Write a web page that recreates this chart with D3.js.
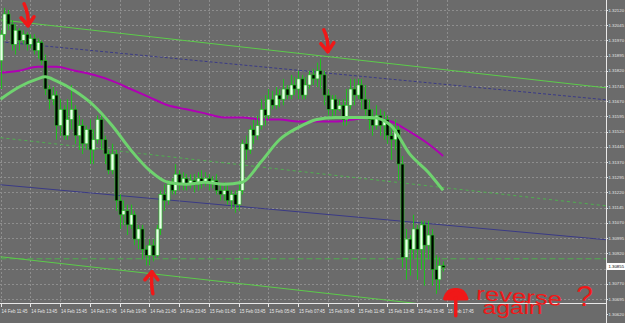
<!DOCTYPE html>
<html>
<head>
<meta charset="utf-8">
<script src="https://cdn.jsdelivr.net/npm/d3@7"></script>
<style>
  body { margin: 0; background: #6b6b6b; }
  svg text { font-family: "Liberation Sans", Arial, sans-serif; }
</style>
</head>
<body>
<div id="chart"></div>
<script>
// price scale labels (right side)
const priceTicks = [1.32120, 1.32045, 1.31970, 1.31895, 1.31820, 1.31745, 1.31670, 1.31595,
  1.31520, 1.31445, 1.31370, 1.31295, 1.31220, 1.31145, 1.31070, 1.30995, 1.30920,
  1.30845, 1.30770, 1.30695, 1.30620];
const lastPrice = 1.30855;

// time labels, one every 8 bars (M15)
const timeTicks = ["14 Feb 11:45", "14 Feb 13:45", "14 Feb 15:45", "14 Feb 17:45",
  "14 Feb 19:45", "14 Feb 21:45", "14 Feb 23:45", "15 Feb 01:45", "15 Feb 03:45",
  "15 Feb 05:45", "15 Feb 07:45", "15 Feb 09:45", "15 Feb 11:45", "15 Feb 13:45",
  "15 Feb 15:45", "15 Feb 17:45"];

// candles: [open, high, low, close]
const ohlc = [
  [1.3187,1.3202,1.3173,1.3200],[1.3200,1.3213,1.3197,1.3210],[1.3210,1.3212,1.3202,1.3205],
  [1.3205,1.3207,1.3192,1.3195],[1.3195,1.3205,1.3190,1.3202],[1.3202,1.3203,1.3192,1.3197],
  [1.3197,1.3202,1.3195,1.3200],[1.3200,1.3201,1.3192,1.3195],[1.3195,1.3200,1.3193,1.3198],
  [1.3198,1.3200,1.3190,1.3192],[1.3192,1.3198,1.3188,1.3196],[1.3196,1.3197,1.3185,1.3187],
  [1.3187,1.3190,1.3170,1.3173],[1.3173,1.3175,1.3163,1.3168],[1.3168,1.3174,1.3165,1.3170],
  [1.3170,1.3172,1.3148,1.3155],[1.3155,1.3168,1.3150,1.3163],[1.3163,1.3165,1.3148,1.3150],
  [1.3150,1.3168,1.3148,1.3158],[1.3158,1.3175,1.3153,1.3163],[1.3163,1.3165,1.3146,1.3150],
  [1.3150,1.3160,1.3143,1.3155],[1.3155,1.3158,1.3141,1.3146],[1.3146,1.3155,1.3143,1.3153],
  [1.3153,1.3158,1.3136,1.3143],[1.3143,1.3153,1.3136,1.3148],[1.3148,1.3160,1.3146,1.3158],
  [1.3158,1.3160,1.3143,1.3148],[1.3148,1.3150,1.3136,1.3141],[1.3141,1.3143,1.3131,1.3133],
  [1.3133,1.3146,1.3131,1.3141],[1.3141,1.3143,1.3113,1.3118],[1.3118,1.3121,1.3104,1.3111],
  [1.3111,1.3118,1.3106,1.3113],[1.3113,1.3116,1.3101,1.3106],[1.3106,1.3116,1.3104,1.3111],
  [1.3111,1.3113,1.3096,1.3099],[1.3099,1.3106,1.3094,1.3104],[1.3104,1.3106,1.3089,1.3094],
  [1.3094,1.3096,1.3086,1.3091],[1.3091,1.3099,1.3086,1.3096],[1.3096,1.3099,1.3088,1.3091],
  [1.3091,1.3106,1.3090,1.3104],[1.3104,1.3123,1.3101,1.3121],[1.3121,1.3126,1.3113,1.3118],
  [1.3118,1.3128,1.3116,1.3126],[1.3126,1.3129,1.3121,1.3123],[1.3123,1.3136,1.3121,1.3131],
  [1.3131,1.3133,1.3123,1.3126],[1.3126,1.3132,1.3123,1.3129],[1.3129,1.3131,1.3123,1.3126],
  [1.3126,1.3131,1.3124,1.3128],[1.3128,1.3131,1.3122,1.3126],[1.3126,1.3132,1.3123,1.3129],
  [1.3129,1.3133,1.3124,1.3127],[1.3127,1.3132,1.3125,1.3129],[1.3129,1.3131,1.3123,1.3127],
  [1.3127,1.3130,1.3124,1.3128],[1.3128,1.3131,1.3121,1.3123],[1.3123,1.3126,1.3118,1.3121],
  [1.3121,1.3127,1.3118,1.3123],[1.3123,1.3126,1.3116,1.3118],[1.3118,1.3123,1.3114,1.3121],
  [1.3121,1.3123,1.3112,1.3116],[1.3116,1.3126,1.3113,1.3123],[1.3123,1.3148,1.3121,1.3146],
  [1.3146,1.3150,1.3138,1.3143],[1.3143,1.3155,1.3141,1.3153],[1.3153,1.3158,1.3146,1.3150],
  [1.3150,1.3160,1.3148,1.3155],[1.3155,1.3168,1.3153,1.3163],[1.3163,1.3170,1.3155,1.3160],
  [1.3160,1.3173,1.3158,1.3168],[1.3168,1.3172,1.3163,1.3165],[1.3165,1.3174,1.3163,1.3170],
  [1.3170,1.3173,1.3164,1.3168],[1.3168,1.3178,1.3165,1.3173],[1.3173,1.3175,1.3168,1.3170],
  [1.3170,1.3180,1.3168,1.3175],[1.3175,1.3179,1.3170,1.3173],[1.3173,1.3182,1.3168,1.3178],
  [1.3178,1.3180,1.3168,1.3170],[1.3170,1.3179,1.3168,1.3175],[1.3175,1.3182,1.3173,1.3180],
  [1.3180,1.3183,1.3175,1.3178],[1.3178,1.3186,1.3174,1.3182],[1.3182,1.3188,1.3173,1.3180],
  [1.3180,1.3182,1.3165,1.3170],[1.3170,1.3173,1.3160,1.3163],[1.3163,1.3170,1.3158,1.3168],
  [1.3168,1.3170,1.3160,1.3163],[1.3163,1.3168,1.3162,1.3165],[1.3165,1.3168,1.3155,1.3158],
  [1.3158,1.3173,1.3155,1.3165],[1.3165,1.3178,1.3163,1.3173],[1.3173,1.3178,1.3165,1.3170],
  [1.3170,1.3178,1.3168,1.3175],[1.3175,1.3178,1.3163,1.3168],[1.3168,1.3175,1.3160,1.3163],
  [1.3163,1.3168,1.3153,1.3158],[1.3158,1.3163,1.3150,1.3155],[1.3155,1.3165,1.3153,1.3160],
  [1.3160,1.3163,1.3150,1.3155],[1.3155,1.3162,1.3148,1.3158],[1.3158,1.3160,1.3146,1.3150],
  [1.3150,1.3155,1.3138,1.3148],[1.3148,1.3158,1.3143,1.3153],[1.3153,1.3155,1.3128,1.3136],
  [1.3136,1.3140,1.3085,1.3090],[1.3090,1.3104,1.3079,1.3099],[1.3099,1.3101,1.3081,1.3094],
  [1.3094,1.3111,1.3089,1.3104],[1.3104,1.3106,1.3079,1.3094],[1.3094,1.3108,1.3084,1.3106],
  [1.3106,1.3108,1.3076,1.3096],[1.3096,1.3108,1.3089,1.3101],[1.3101,1.3104,1.3076,1.3084],
  [1.3084,1.3091,1.3072,1.3079],[1.3079,1.3090,1.3074,1.3086],[1.3086,1.3088,1.3083,1.3085]
];

// moving averages, read at these bar indexes
const maIdx = [0,5,10,12,15,20,25,30,35,40,45,50,55,60,65,70,75,80,85,90,95,100,105,110,115,119];
const maGreen = [1.3168,1.3174,1.3178,1.3179,1.3177,1.3172,1.3165,1.3155,1.3143,1.3133,1.3127,1.3126,
  1.3127,1.3126,1.3127,1.3137,1.3148,1.3154,1.3158,1.3159,1.3159,1.3159,1.3155,1.3141,1.3132,1.3123];
const maMagenta = [1.3181,1.3182,1.3184,1.3184,1.3184,1.3182,1.3180,1.3177,1.3173,1.3169,1.3165,1.3163,
  1.3161,1.3159,1.3159,1.3158,1.3158,1.3157,1.3157,1.3157,1.3158,1.3159,1.3157,1.3152,1.3146,1.3140];

// drawn trend lines: [barIndex, price] pairs
const channelTop = [[0, 1.32071], [162.8, 1.31736]];
const channelBottom = [[0, 1.30903], [162.8, 1.30568]];
const channelMid = [[0, 1.31490], [162.8, 1.31154]];
const navyTop = [[0, 1.31963], [162.8, 1.31677]];
const navyMid = [[0, 1.31258], [162.8, 1.30987]];
const levelLine = [[0, 1.30893], [162.8, 1.30893]];

const width = 625, height = 323;
const plotW = 606, plotH = 303;

const svg = d3.select("#chart").append("svg")
  .attr("width", width).attr("height", height);

svg.append("rect").attr("width", width).attr("height", height).attr("fill", "#6b6b6b");

svg.append("defs").append("clipPath").attr("id", "plot")
  .append("rect").attr("width", plotW).attr("height", plotH);

const x = d3.scaleLinear().domain([0, 162.8]).range([0.5, plotW]);
const y = d3.scaleLinear().domain([1.30675, 1.32169]).range([plotH, 0]);

// grid
const grid = svg.append("g").attr("stroke", "#8e8e8e").attr("stroke-dasharray", "2,2")
  .attr("shape-rendering", "crispEdges");
grid.selectAll(".h").data(priceTicks.filter(p => y(p) < plotH - 2)).enter().append("line")
  .attr("x1", 0).attr("x2", plotW)
  .attr("y1", d => Math.round(y(d)) + 0.5).attr("y2", d => Math.round(y(d)) + 0.5);
grid.selectAll(".v").data(timeTicks).enter().append("line")
  .attr("y1", 0).attr("y2", plotH)
  .attr("x1", (d, i) => Math.round(x(i * 8)) + 0.5).attr("x2", (d, i) => Math.round(x(i * 8)) + 0.5);

const plot = svg.append("g").attr("clip-path", "url(#plot)");

// trend lines
function addLine(pts, color, w, dash) {
  plot.append("line")
    .attr("x1", x(pts[0][0])).attr("y1", y(pts[0][1]))
    .attr("x2", x(pts[1][0])).attr("y2", y(pts[1][1]))
    .attr("stroke", color).attr("stroke-width", w)
    .attr("stroke-dasharray", dash || null);
}
addLine(navyTop, "#3a3a86", 1, "3,2");
addLine(navyMid, "#3a3a86", 1);
addLine(channelMid, "#4fb04f", 1, "3,3");
addLine(levelLine, "#4fb04f", 1, "6,3");
addLine(channelTop, "#5ccc4a", 1);
addLine(channelBottom, "#5ccc4a", 1);

// moving averages
const maLine = d3.line().x(d => x(d[0])).y(d => y(d[1])).curve(d3.curveMonotoneX);
plot.append("path").datum(maIdx.map((d, i) => [d, maMagenta[i]]))
  .attr("d", maLine).attr("fill", "none").attr("stroke", "#b000b4").attr("stroke-width", 2);

// candles
const candle = plot.append("g").selectAll("g").data(ohlc).enter().append("g");
candle.append("line")
  .attr("x1", (d, i) => Math.round(x(i)) + 0.5).attr("x2", (d, i) => Math.round(x(i)) + 0.5)
  .attr("y1", d => y(d[1])).attr("y2", d => y(d[2]))
  .attr("stroke", "#1fbf1f").attr("stroke-width", 1);
candle.append("rect")
  .attr("x", (d, i) => Math.round(x(i)) - 1)
  .attr("width", 3)
  .attr("y", d => y(Math.max(d[0], d[3])))
  .attr("height", d => Math.max(1, Math.abs(y(d[0]) - y(d[3]))))
  .attr("fill", d => d[3] >= d[0] ? "#eaffea" : "#000")
  .attr("stroke", "#1fbf1f").attr("stroke-width", 0.6);

plot.append("path").datum(maIdx.map((d, i) => [d, maGreen[i]]))
  .attr("d", maLine).attr("fill", "none").attr("stroke", "#6fd36f").attr("stroke-width", 3);

// axes frame
svg.append("line").attr("x1", plotW + 0.5).attr("x2", plotW + 0.5).attr("y1", 0).attr("y2", height)
  .attr("stroke", "#e8e8e8");
svg.append("line").attr("x1", 0).attr("x2", plotW).attr("y1", plotH + 0.5).attr("y2", plotH + 0.5)
  .attr("stroke", "#e8e8e8");

// price labels (skip the one hidden under the last price box)
const shownTicks = priceTicks.filter(p => y(p) < height - 4 && Math.abs(y(p) - y(lastPrice)) > 5);
const pl = svg.append("g");
pl.selectAll("text").data(shownTicks).enter().append("text")
  .attr("x", plotW + 2.5).attr("y", d => y(d) + 1.6)
  .attr("font-size", 4.3).attr("fill", "#e6e6e6")
  .text(d => d3.format(".5f")(d));
pl.selectAll("line").data(shownTicks).enter().append("line")
  .attr("x1", plotW).attr("x2", plotW + 2)
  .attr("y1", d => Math.round(y(d)) + 0.5).attr("y2", d => Math.round(y(d)) + 0.5)
  .attr("stroke", "#e8e8e8");

// last price box
svg.append("rect").attr("x", plotW + 1).attr("y", y(lastPrice) - 3.5).attr("width", 18).attr("height", 7)
  .attr("fill", "#fff");
svg.append("text").attr("x", plotW + 2.5).attr("y", y(lastPrice) + 1.6)
  .attr("font-size", 4.3).attr("fill", "#000")
  .text(d3.format(".5f")(lastPrice));

// time labels
const tl = svg.append("g");
tl.selectAll("text").data(timeTicks).enter().append("text")
  .attr("x", (d, i) => x(i * 8) + 1).attr("y", plotH + 10)
  .attr("font-size", 5.5).attr("fill", "#e6e6e6")
  .attr("textLength", 26).attr("lengthAdjust", "spacingAndGlyphs")
  .text(d => d);
tl.selectAll("line").data(timeTicks).enter().append("line")
  .attr("x1", (d, i) => Math.round(x(i * 8)) + 0.5).attr("x2", (d, i) => Math.round(x(i * 8)) + 0.5)
  .attr("y1", plotH).attr("y2", plotH + 4).attr("stroke", "#e8e8e8");

// hand drawn annotations
const red = "#f01818";
const ann = svg.append("g").attr("stroke", red).attr("fill", "none")
  .attr("stroke-width", 3.5).attr("stroke-linecap", "round").attr("stroke-linejoin", "round");
function downArrow(i, p) {
  const g = ann.append("g").attr("transform", `translate(${x(i)},${y(p)})`);
  g.append("path").attr("d", "M-4,-22 Q1,-12 0,0");
  g.append("path").attr("d", "M-7,-8 L0,0 L6,-9");
}
function upArrow(i, p) {
  const g = ann.append("g").attr("transform", `translate(${x(i)},${y(p)})`);
  g.append("path").attr("d", "M0,0 Q-1,12 1,22");
  g.append("path").attr("d", "M-7,8 L0,0 L6,8");
}
downArrow(7.4, 1.32042);
downArrow(88.0, 1.31914);
upArrow(40.7, 1.30829);

// mushroom-like arrow near the last bar
const mush = ann.append("g").attr("transform", `translate(${x(122.4)},${y(1.30740)})`);
mush.append("path").attr("d", "M-11,9 Q-8,-1 0,0 Q8,-1 11,9 Z").attr("fill", red);
mush.append("path").attr("d", "M0,8 L0,26");

const txt = svg.append("g").attr("fill", red);
txt.append("text").attr("x", x(127.8)).attr("y", y(1.30691))
  .attr("transform", `rotate(4 ${x(127.8)} ${y(1.30691)})`)
  .attr("font-size", 19).attr("textLength", 86).attr("lengthAdjust", "spacingAndGlyphs")
  .text("reverse");
txt.append("text").attr("x", x(129.6)).attr("y", y(1.30620))
  .attr("font-size", 18).attr("textLength", 60).attr("lengthAdjust", "spacingAndGlyphs")
  .text("again");
txt.append("text").attr("x", x(154.8)).attr("y", y(1.30660)).attr("font-size", 30).text("?");
</script>
</body>
</html>
